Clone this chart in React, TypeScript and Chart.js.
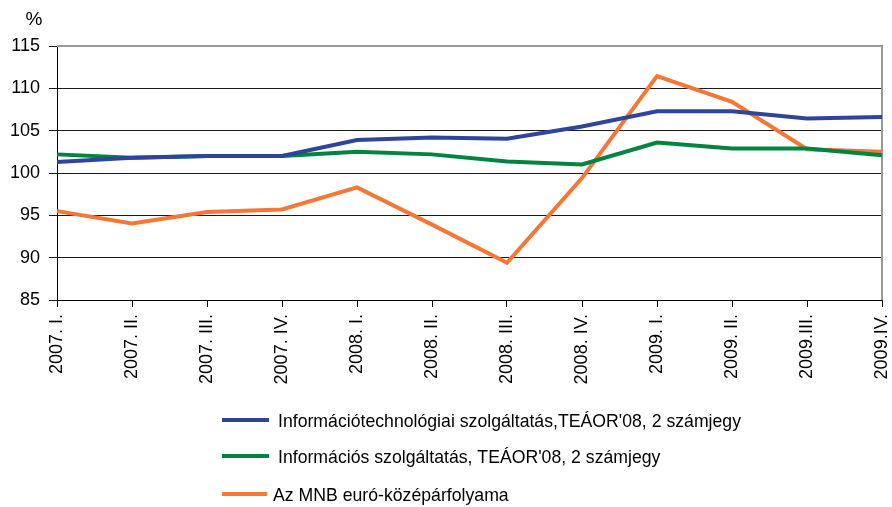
import React, { useEffect, useRef } from "react";
import { Chart, registerables } from "chart.js";

Chart.register(...registerables);

const categories = [
  "2007. I.", "2007. II.", "2007. III.", "2007. IV.",
  "2008. I.", "2008. II.", "2008. III.", "2008. IV.",
  "2009. I.", "2009. II.", "2009.III.", "2009.IV.",
];

const itServices = [101.3, 101.8, 102.0, 102.0, 103.9, 104.2, 104.05, 105.5, 107.3, 107.3, 106.45, 106.6];
const infoServices = [102.2, 101.8, 102.0, 102.0, 102.5, 102.2, 101.35, 101.0, 103.6, 102.9, 102.9, 102.1];
const mnbEuroRate = [95.5, 94.05, 95.4, 95.7, 98.3, 93.9, 89.4, 99.4, 111.45, 108.4, 102.8, 102.5];

const seriesLabels = [
  "Információtechnológiai szolgáltatás,TEÁOR'08, 2 számjegy",
  "Információs szolgáltatás, TEÁOR'08, 2 számjegy",
  "Az MNB euró-középárfolyama",
];
const seriesColors = ["#2E459B", "#00843F", "#F47735"];

const yMin = 85;
const yMax = 115;
const yStep = 5;
const unitLabel = "%";

const FONT = "'Liberation Sans', Arial, sans-serif";

const decorPlugin = {
  id: "decor",
  beforeDatasetsDraw(chart: any) {
    const { ctx, chartArea } = chart;
    ctx.save();
    ctx.strokeStyle = "#999999";
    ctx.lineWidth = 2;
    ctx.beginPath();
    ctx.moveTo(chartArea.left, chartArea.top);
    ctx.lineTo(chartArea.right, chartArea.top);
    ctx.lineTo(chartArea.right, chartArea.bottom);
    ctx.stroke();
    ctx.restore();
  },
  afterDraw(chart: any) {
    const { ctx, chartArea } = chart;
    ctx.save();
    ctx.fillStyle = "#000";
    ctx.font = `19px ${FONT}`;
    ctx.textAlign = "center";
    ctx.textBaseline = "middle";
    ctx.fillText(unitLabel, 34, chartArea.top - 26);

    const offsets = [120, 156, 194];
    const lineEnds = [269, 269, 267];
    const textStarts = [278, 278, 273];
    chart.data.datasets.forEach((ds: any, i: number) => {
      const y = chartArea.bottom + offsets[i];
      ctx.strokeStyle = ds.borderColor;
      ctx.lineWidth = 4;
      ctx.beginPath();
      ctx.moveTo(222, y);
      ctx.lineTo(lineEnds[i], y);
      ctx.stroke();
      ctx.save();
      ctx.translate(textStarts[i], y + 2);
      ctx.scale(0.93, 1);
      ctx.fillStyle = "#000";
      ctx.textAlign = "left";
      ctx.textBaseline = "middle";
      ctx.font = `19px ${FONT}`;
      ctx.fillText(ds.label, 0, 0);
      ctx.restore();
    });
    ctx.restore();
  },
};

export default function App() {
  const canvasRef = useRef<HTMLCanvasElement | null>(null);

  useEffect(() => {
    if (!canvasRef.current) return;
    const seriesValues = [itServices, infoServices, mnbEuroRate];
    const chart = new Chart(canvasRef.current, {
      type: "line",
      data: {
        labels: categories,
        datasets: seriesValues.map((vals, i) => ({
          label: seriesLabels[i],
          data: vals,
          borderColor: seriesColors[i],
          backgroundColor: seriesColors[i],
          borderWidth: 4,
          pointRadius: 0,
          tension: 0,
          fill: false,
        })),
      },
      options: {
        animation: false,
        responsive: true,
        maintainAspectRatio: false,
        layout: { padding: { top: 46, right: 10, left: 0, bottom: 0 } },
        plugins: {
          legend: { display: false },
          tooltip: { enabled: false },
        },
        scales: {
          x: {
            type: "category",
            offset: false,
            afterFit: (scale: any) => {
              scale.height = 207;
              scale.paddingLeft = 0;
              scale.paddingRight = 0;
            },
            grid: {
              drawOnChartArea: false,
              drawTicks: true,
              tickLength: 7,
              color: "#000",
            },
            border: { color: "#000", width: 1 },
            ticks: {
              autoSkip: false,
              minRotation: 90,
              maxRotation: 90,
              padding: 7,
              color: "#000",
              font: { family: FONT, size: 18 },
            },
          },
          y: {
            min: yMin,
            max: yMax,
            afterFit: (scale: any) => {
              scale.width = 57;
              scale.paddingTop = 0;
              scale.paddingBottom = 0;
            },
            grid: {
              color: "#1a1a1a",
              lineWidth: 1,
              tickLength: 8,
            },
            border: { color: "#000", width: 1 },
            ticks: {
              stepSize: yStep,
              padding: 9,
              color: "#000",
              font: { family: FONT, size: 18 },
            },
          },
        },
      },
      plugins: [decorPlugin],
    });
    return () => chart.destroy();
  }, []);

  return (
    <div style={{ position: "fixed", left: 0, top: 0, width: 892, height: 507, background: "#fff" }}>
      <canvas ref={canvasRef} />
    </div>
  );
}
